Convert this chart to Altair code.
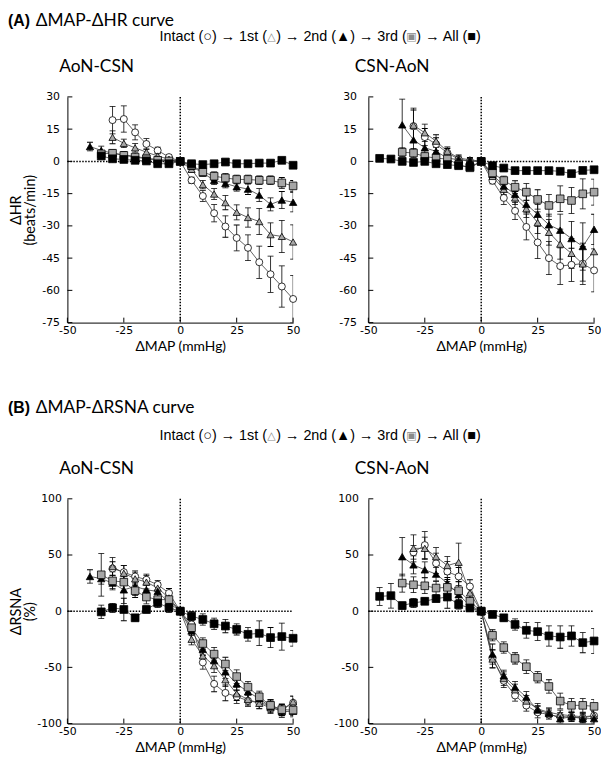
import altair as alt
import pandas as pd

N = None
MAP = [-45, -40, -35, -30, -25, -20, -15, -10, -5, 0, 5, 10, 15, 20, 25, 30, 35, 40, 45, 50]
SERIES = ["Intact", "1st", "2nd", "3rd", "All"]
SHAPES = ["circle", "triangle-up", "triangle-up", "square", "square"]
FILLS = ["#ffffff", "#a6a6a6", "#000000", "#a6a6a6", "#000000"]
SIZES = [50, 62, 62, 50, 50]
X_TICKS = [-50, -25, 0, 25, 50]
HR_TICKS = [30, 15, 0, -15, -30, -45, -60, -75]
RSNA_TICKS = [100, 50, 0, -50, -100]

# (A) AoN-CSN  dHR
HR1_INTACT = [N, N, N, 19.2, 19.7, 13.5, 8.1, 5.1, 2.0, 0, -8.8, -16.1, -24.1, -30.3, -35.6, -40.2, -46.9, -52.5, -58.2, -64.0]
HR1_INTACT_SE = [N, N, N, 6.4, 6.1, 3.5, 2.5, 1.5, 1.0, 0, 1.5, 2.5, 4.0, 5.0, 6.0, 6.0, 7.5, 8.4, 9.6, 11.0]
HR1_1ST = [N, N, N, 11.2, 8.4, 6.3, 4.3, 2.5, 1.0, 0, -3.7, -10.8, -15.2, -19.2, -23.7, -26.1, -28.0, -34.1, -34.9, -37.5]
HR1_1ST_SE = [N, N, N, 3.0, 2.0, 2.0, 1.5, 1.0, 1.0, 0, 1.5, 2.0, 2.5, 3.3, 3.5, 4.5, 6.0, 5.5, 7.5, 8.0]
HR1_2ND = [N, 6.9, 5.1, 3.8, 3.1, 2.3, 1.5, 0.9, 0.5, 0, -2.3, -5.4, -8.8, -10.3, -11.8, -12.9, -15.7, -20.0, -18.0, -19.0]
HR1_2ND_SE = [N, 2.0, 2.0, 1.5, 1.5, 1.0, 1.0, 1.0, 0.5, 0, 1.0, 1.5, 2.0, 2.0, 2.0, 2.5, 3.0, 3.0, 4.0, 4.5]
HR1_3RD = [N, N, 3.5, 3.8, 2.8, 2.0, 1.2, 0.5, 0.2, 0, -1.8, -4.9, -6.9, -7.7, -8.4, -8.4, -8.8, -8.8, -10.0, -11.4]
HR1_3RD_SE = [N, N, 1.5, 1.5, 1.0, 1.0, 1.0, 0.5, 0.5, 0, 1.0, 1.5, 2.0, 2.0, 2.0, 2.0, 2.0, 2.0, 2.5, 2.5]
HR1_ALL = [N, N, 2.5, 1.2, 0.9, 0.5, 0.2, -1.1, -1.1, 0, -1.1, -1.5, -1.1, -0.3, -1.1, -1.1, -0.8, -0.8, 0.5, -1.8]
HR1_ALL_SE = [N, N, 1.0, 1.0, 1.0, 0.5, 0.5, 0.5, 0.5, 0, 0.5, 1.0, 1.0, 1.0, 1.0, 1.0, 1.0, 1.0, 1.0, 1.0]

# (A) CSN-AoN  dHR
HR2_INTACT = [N, N, N, 16.4, 11.3, 8.0, 4.0, 1.0, 0.0, 0, -9.0, -17.0, -23.0, -30.5, -37.7, -45.0, -48.7, -48.1, -47.6, -50.7]
HR2_INTACT_SE = [N, N, N, 7.5, 4.0, 3.0, 2.0, 1.5, 1.0, 0, 1.5, 3.0, 4.0, 6.0, 7.5, 7.7, 8.5, 7.7, 9.6, 10.0]
HR2_1ST = [N, N, N, 16.8, 13.3, 9.4, 4.7, 1.5, 0.8, 0, -7.0, -13.0, -17.0, -22.0, -28.5, -33.0, -38.5, -42.8, -47.7, -42.0]
HR2_1ST_SE = [N, N, N, 8.0, 4.0, 3.0, 2.0, 1.5, 1.0, 0, 1.5, 2.5, 3.0, 4.0, 5.0, 6.0, 7.0, 7.0, 8.0, 9.0]
HR2_2ND = [N, N, 17.0, 10.0, 6.3, 4.7, 1.5, 0.8, 0.3, 0, -6.0, -11.5, -15.3, -20.0, -24.6, -29.5, -32.0, -35.9, -39.6, -31.6]
HR2_2ND_SE = [N, N, 12.0, 5.0, 4.0, 3.0, 2.0, 1.0, 1.0, 0, 1.5, 2.0, 3.0, 4.0, 4.5, 5.0, 7.5, 8.0, 11.0, 7.0]
HR2_3RD = [N, N, 4.3, 3.9, 2.3, 1.5, 1.1, -1.5, -3.0, 0, -5.4, -8.9, -12.0, -14.3, -17.7, -20.5, -17.4, -18.2, -15.1, -14.3]
HR2_3RD_SE = [N, N, 2.0, 2.0, 1.5, 1.5, 1.0, 1.0, 1.0, 0, 1.5, 2.0, 3.0, 4.0, 4.5, 5.0, 6.0, 6.0, 7.0, 6.0]
HR2_ALL = [1.4, 1.1, 0.0, -0.5, 0.0, -1.1, -1.5, -2.0, -2.6, 0, -2.0, -3.1, -4.3, -4.3, -4.3, -4.3, -4.6, -5.7, -4.2, -3.9]
HR2_ALL_SE = [0.5, 0.5, 0.5, 0.5, 0.5, 0.5, 0.5, 0.5, 0.5, 0, 0.5, 0.5, 0.5, 0.5, 0.5, 0.5, 0.5, 0.5, 0.5, 0.5]

# (B) AoN-CSN  dRSNA
RS1_INTACT = [N, N, N, 38.0, 34.7, 30.9, 28.0, 23.5, 16.2, 0, -11.8, -45.6, -64.7, -72.7, -76.0, -79.7, -81.5, -83.8, -88.0, -81.5]
RS1_INTACT_SE = [N, N, N, 6, 6, 5, 5, 4, 4, 0, 4, 6, 7, 7, 6, 5, 5, 5, 5, 6]
RS1_1ST = [N, N, N, 39.7, 33.8, 28.8, 25.9, 20.6, 11.8, 0, -25.0, -39.7, -48.5, -61.0, -73.5, -78.5, -82.0, -86.0, -88.0, -80.6]
RS1_1ST_SE = [N, N, N, 8, 7, 6, 6, 5, 5, 0, 5, 6, 6, 6, 6, 5, 5, 5, 5, 5]
RS1_2ND = [N, 30.9, 29.0, 25.0, 19.0, 22.0, 19.0, 17.6, 7.4, 0, -17.6, -34.0, -44.0, -54.0, -64.7, -71.8, -77.9, -85.0, -89.4, -89.0]
RS1_2ND_SE = [N, 6, 5, 5, 12, 8, 6, 5, 4, 0, 4, 5, 6, 6, 6, 6, 5, 5, 5, 5]
RS1_3RD = [N, N, 32.4, 27.0, 25.9, 18.2, 12.6, 10.3, 10.3, 0, -14.7, -28.8, -38.2, -47.0, -58.2, -67.6, -76.2, -83.8, -87.6, -88.0]
RS1_3RD_SE = [N, N, 19, 8, 8, 6, 6, 5, 5, 0, 4, 5, 6, 6, 6, 5, 5, 5, 5, 5]
RS1_ALL = [N, N, -0.6, 3.0, 1.5, -5.9, 1.5, 7.4, 3.0, 0, -4.4, -7.4, -11.2, -13.2, -16.2, -20.6, -19.7, -23.5, -22.6, -24.1]
RS1_ALL_SE = [N, N, 6, 4, 10, 3, 3, 4, 4, 0, 4, 5, 5, 6, 5, 6, 11, 9, 12, 7]

# (B) CSN-AoN  dRSNA
RS2_INTACT = [N, N, N, 52.4, 58.8, 42.6, 35.3, 30.9, 22.0, 0, -42.0, -62.0, -75.0, -84.0, -90.0, -92.0, -94.0, -94.0, -95.0, -93.0]
RS2_INTACT_SE = [N, N, N, 6, 12, 9, 9, 8, 6, 0, 8, 6, 5, 5, 5, 4, 4, 4, 4, 4]
RS2_1ST = [N, N, N, 55.9, 55.9, 48.5, 40.6, 43.5, 16.2, 0, -42.6, -60.0, -70.0, -80.0, -87.0, -90.0, -92.0, -93.0, -94.0, -93.0]
RS2_1ST_SE = [N, N, N, 12, 10, 8, 8, 17, 6, 0, 8, 6, 5, 5, 5, 4, 4, 4, 4, 4]
RS2_2ND = [N, N, 48.5, 41.2, 36.8, 33.0, 25.0, 14.7, 5.0, 0, -38.2, -57.4, -67.6, -76.5, -88.0, -91.0, -95.6, -94.0, -95.6, -95.6]
RS2_2ND_SE = [N, N, 17, 8, 7, 6, 5, 5, 4, 0, 9, 5, 5, 5, 4, 4, 4, 4, 4, 4]
RS2_3RD = [N, N, 25.0, 23.5, 22.6, 20.6, 21.2, 18.2, 8.8, 0, -21.5, -32.4, -42.0, -49.4, -58.8, -67.0, -80.0, -83.8, -83.8, -84.7]
RS2_3RD_SE = [N, N, 8, 7, 7, 6, 7, 8, 5, 0, 5, 5, 5, 6, 5, 6, 7, 6, 6, 6]
RS2_ALL = [13.2, 13.8, 5.0, 7.4, 8.8, 11.2, 12.6, 5.9, 2.9, 0, -2.9, -5.9, -11.8, -17.0, -18.2, -22.0, -23.0, -22.0, -28.0, -26.5]
RS2_ALL_SE = [8, 11, 3, 4, 3, 3, 10, 4, 3, 0, 2, 3, 5, 7, 8, 9, 10, 9, 9, 11]

TITLE_A = ["(A)", "ΔMAP-ΔHR curve"]
TITLE_B = ["(B)", "ΔMAP-ΔRSNA curve"]
LEGEND_TEXT = ["Intact (○) → 1st (", ") → 2nd (▲) → 3rd (", ") → All (■)"]
LEGEND_GRAY = ["△", "▣"]
SUBTITLES = ["AoN-CSN", "CSN-AoN"]
X_TITLE = "ΔMAP (mmHg)"
HR_TITLE = ["ΔHR", "(beats/min)"]
RSNA_TITLE = ["ΔRSNA", "(%)"]

# ---- layout (pixels) ----
W = 228
H_TOP = 228
H_BOT = 227
GAP = 76
HEAD_A = 85
HEAD_B = 178
LEGEND_TEXT_X = [93, 211, 352.5]
LEGEND_GRAY_X = [206, 347.5]
TITLE_FONT = "Lato"
LABEL_FONT = "DejaVu Sans"
LEGEND_FONT = "Liberation Sans"


def series_frame(series_values):
    rows = []
    for name, (vals, ses) in zip(SERIES, series_values):
        for x, v, e in zip(MAP, vals, ses):
            if v is None:
                continue
            rows.append({"x": x, "y": v, "lo": v - e, "hi": v + e, "s": name})
    return pd.DataFrame(rows)


def panel(series_values, ydom, yticks, ytitle, hfrom, hto, label_pad, h):
    df = series_frame(series_values)
    df_err = df[df["hi"] > df["lo"]]
    xscale = alt.Scale(domain=[-50, 50], nice=False, zero=False)
    yscale = alt.Scale(domain=ydom, nice=False, zero=False)
    xaxis = alt.Axis(values=X_TICKS, ticks=False, grid=False, labelFlush=False,
                     labelExpr="datum.value + ''", labelPadding=2, title=X_TITLE,
                     titlePadding=4, titleFontSize=14)
    if ytitle:
        yaxis = alt.Axis(values=yticks, ticks=False, grid=False, labelPadding=label_pad,
                         labelExpr="datum.value + ''", title=ytitle, titleX=-44,
                         titleLineHeight=14, titleFontSize=14.5)
    else:
        yaxis = alt.Axis(values=yticks, ticks=False, grid=False, labelPadding=label_pad,
                         labelExpr="datum.value + ''", title=None)

    def X(f):
        return alt.X(f, type="quantitative", scale=xscale, axis=xaxis)

    def Y(f):
        return alt.Y(f, type="quantitative", scale=yscale, axis=yaxis)

    hdf = pd.DataFrame({"a": [hfrom], "b": [hto], "z": [0]})
    vdf = pd.DataFrame({"z": [0]})
    xt = pd.DataFrame({"t": X_TICKS})
    yt = pd.DataFrame({"t": yticks})

    hline = alt.Chart(hdf).mark_rule(color="black", strokeWidth=1.5, strokeDash=[1.5, 1.5]).encode(
        x=X("a"), x2="b", y=Y("z"))
    vline = alt.Chart(vdf).mark_rule(color="black", strokeWidth=1.5, strokeDash=[1.5, 1.5]).encode(
        x=X("z"), y=alt.value(0), y2=alt.value(h))
    xticks = alt.Chart(xt).mark_rule(color="black", strokeWidth=1).encode(
        x=X("t"), y=alt.value(h - 5), y2=alt.value(h))
    yticks_l = alt.Chart(yt).mark_rule(color="black", strokeWidth=1).encode(
        y=Y("t"), x=alt.value(0), x2=alt.value(5))
    lines = alt.Chart(df).mark_line(color="#3a3a3a", strokeWidth=0.8).encode(
        x=X("x"), y=Y("y"), detail="s:N", order="x:Q")
    ebar = alt.Chart(df_err).mark_rule(color="black", strokeWidth=0.8, clip=True).encode(
        x=X("x"), y=Y("lo"), y2="hi")
    cap_lo = alt.Chart(df_err).mark_tick(orient="horizontal", size=6, thickness=0.8, color="black",
                                         opacity=1, clip=True).encode(x=X("x"), y=Y("lo"))
    cap_hi = alt.Chart(df_err).mark_tick(orient="horizontal", size=6, thickness=0.8, color="black",
                                         opacity=1, clip=True).encode(x=X("x"), y=Y("hi"))
    pts = alt.Chart(df).mark_point(filled=True, stroke="black", strokeWidth=0.8, opacity=1).encode(
        x=X("x"), y=Y("y"),
        shape=alt.Shape("s:N", scale=alt.Scale(domain=SERIES, range=SHAPES), legend=None),
        fill=alt.Fill("s:N", scale=alt.Scale(domain=SERIES, range=FILLS), legend=None),
        size=alt.Size("s:N", scale=alt.Scale(domain=SERIES, range=SIZES), legend=None),
    )
    return alt.layer(hline, vline, xticks, yticks_l, lines, ebar, cap_lo, cap_hi, pts).properties(
        width=W, height=h)


ONE = pd.DataFrame({"k": [0]})


def txt(text, x, y, font, size, color="black", weight="normal", align="left"):
    return alt.Chart(ONE).mark_text(text=text, font=font, fontSize=size, fontWeight=weight,
                                    color=color, align=align, baseline="middle").encode(
        x=alt.value(x), y=alt.value(y))


def header_left(title_parts, h, y_title, y_leg, y_sub):
    layers = [
        txt(title_parts[0], -60, y_title, "Liberation Sans", 16, weight="bold"),
        txt(title_parts[1], -32, y_title, TITLE_FONT, 17.5),
    ]
    for s, x in zip(LEGEND_TEXT, LEGEND_TEXT_X):
        layers.append(txt(s, x, y_leg, LEGEND_FONT, 14.5))
    for s, x in zip(LEGEND_GRAY, LEGEND_GRAY_X):
        layers.append(txt(s, x, y_leg, "DejaVu Sans", 11, color="#8a8a8a", align="center"))
    layers.append(txt(SUBTITLES[0], 29.5, y_sub, TITLE_FONT, 17.5, align="center"))
    return alt.layer(*layers).properties(width=W, height=h)


def header_right(h, y_sub):
    return alt.layer(txt(SUBTITLES[1], 24, y_sub, TITLE_FONT, 17.5, align="center")).properties(
        width=W, height=h)


pA1 = panel([(HR1_INTACT, HR1_INTACT_SE), (HR1_1ST, HR1_1ST_SE), (HR1_2ND, HR1_2ND_SE),
             (HR1_3RD, HR1_3RD_SE), (HR1_ALL, HR1_ALL_SE)],
            [-75, 30], HR_TICKS, HR_TITLE, -50, 0, 8, H_TOP)
pA2 = panel([(HR2_INTACT, HR2_INTACT_SE), (HR2_1ST, HR2_1ST_SE), (HR2_2ND, HR2_2ND_SE),
             (HR2_3RD, HR2_3RD_SE), (HR2_ALL, HR2_ALL_SE)],
            [-75, 30], HR_TICKS, None, 0, 50, 12, H_TOP)
pB1 = panel([(RS1_INTACT, RS1_INTACT_SE), (RS1_1ST, RS1_1ST_SE), (RS1_2ND, RS1_2ND_SE),
             (RS1_3RD, RS1_3RD_SE), (RS1_ALL, RS1_ALL_SE)],
            [-100, 100], RSNA_TICKS, RSNA_TITLE, -50, 50, 6, H_BOT)
pB2 = panel([(RS2_INTACT, RS2_INTACT_SE), (RS2_1ST, RS2_1ST_SE), (RS2_2ND, RS2_2ND_SE),
             (RS2_3RD, RS2_3RD_SE), (RS2_ALL, RS2_ALL_SE)],
            [-100, 100], RSNA_TICKS, None, -50, 50, 10, H_BOT)

hA1 = header_left(TITLE_A, HEAD_A, 8, 25, 55)
hA2 = header_right(HEAD_A, 55)
hB1 = header_left(TITLE_B, HEAD_B, 86, 115, 148)
hB2 = header_right(HEAD_B, 148)

chart = alt.concat(hA1, hA2, pA1, pA2, hB1, hB2, pB1, pB2, columns=2,
                   spacing=alt.RowColnumber(row=0, column=GAP), bounds="flush",
                   align="each").properties(padding=0).configure_view(
    stroke=None).configure_axis(
    domainColor="black", domainWidth=1, labelColor="black", labelFont=LABEL_FONT,
    labelFontSize=11, titleFont=TITLE_FONT, titleFontWeight="normal", titleColor="black")

chart.save("out.html", embed_options={"renderer": "svg", "actions": False})
